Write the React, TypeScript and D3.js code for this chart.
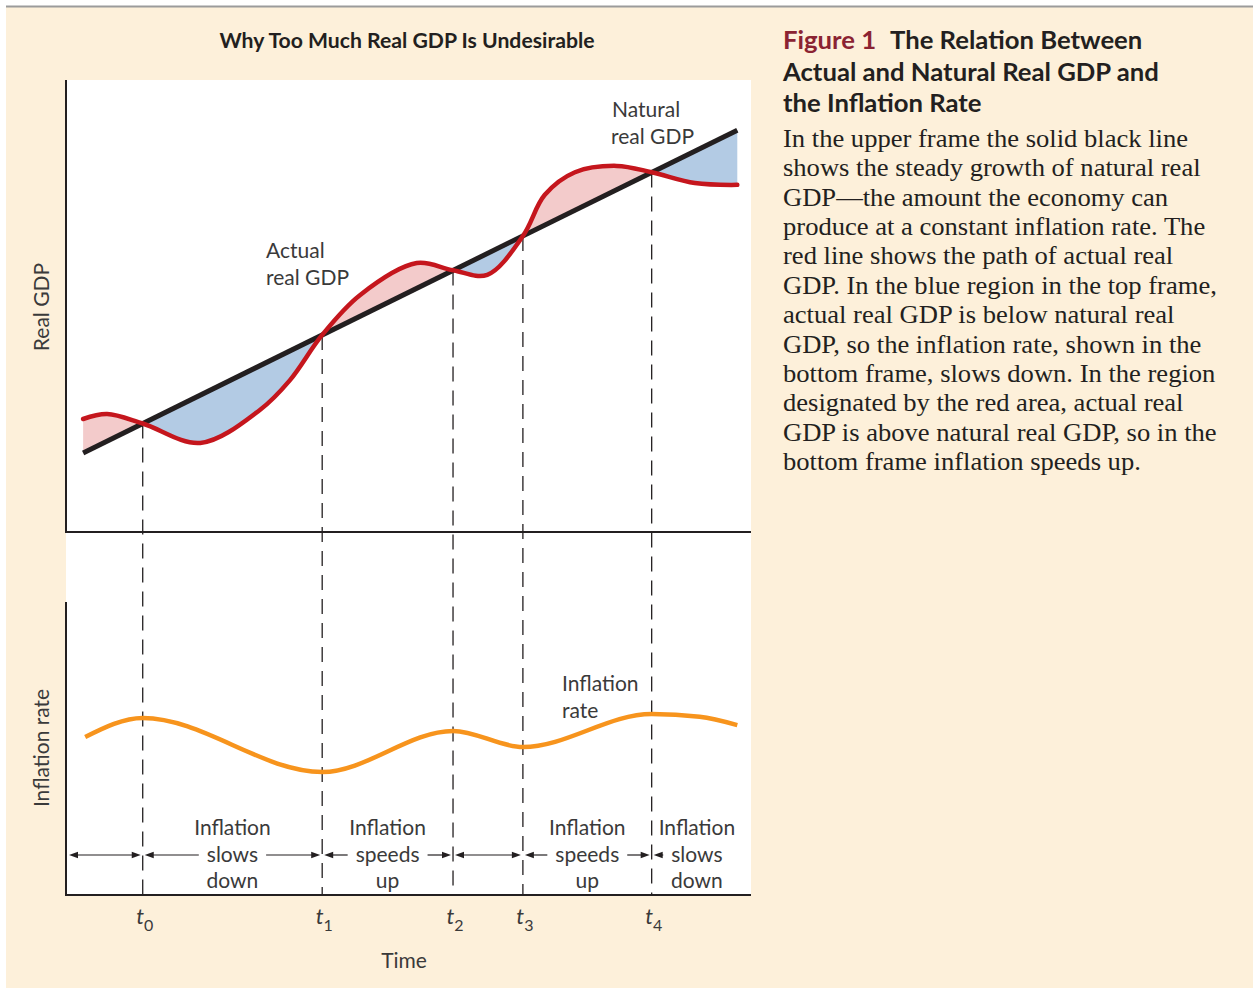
import React, { useEffect, useRef } from "react";
import * as d3 from "d3";

// ---------- data ----------
const gdpTime = [2.5, 6, 11.2, 19.6, 28.3, 32.7, 37.4, 42.9, 51.2, 56.5, 61.5, 66.7, 69.9, 74.3, 80.4, 85.5, 91.8, 98];
const actualGdp = [25, 26.1, 24, 19.7, 27, 33.6, 43.6, 52.4, 59.5, 57.9, 56.9, 65.5, 74.6, 79.6, 81, 79.6, 77.2, 76.8];
const naturalTime = [2.5, 98];
const naturalGdp = [17.5, 88.9];
const inflationTime = [2.8, 11.2, 37.4, 56.5, 66.7, 85.5, 92.5, 98];
const inflationRate = [53.9, 60.4, 42.0, 56.0, 50.5, 61.8, 60.8, 58.0];
const eventTimes = [11.2, 37.4, 56.5, 66.7, 85.5];
const eventLabels = ["0", "1", "2", "3", "4"];
const phaseBounds = [0.15, 11.2, 37.4, 56.5, 66.7, 85.5, 98.7];
const phaseLabels: (string[] | null)[] = [
  null,
  ["Inflation", "slows", "down"],
  ["Inflation", "speeds", "up"],
  null,
  ["Inflation", "speeds", "up"],
  ["Inflation", "slows", "down"],
];
const phaseRightArrow = [true, true, true, true, true, false];

const captionHeading = ["The Relation Between", "Actual and Natural Real GDP and", "the Inflation Rate"];
const captionBody = [
  "In the upper frame the solid black line",
  "shows the steady growth of natural real",
  "GDP\u2014the amount the economy can",
  "produce at a constant inflation rate. The",
  "red line shows the path of actual real",
  "GDP. In the blue region in the top frame,",
  "actual real GDP is below natural real",
  "GDP, so the inflation rate, shown in the",
  "bottom frame, slows down. In the region",
  "designated by the red area, actual real",
  "GDP is above natural real GDP, so in the",
  "bottom frame inflation speeds up.",
];

const W = 1253;
const H = 988;
const CREAM = "#fdf0da";
const INK = "#231f20";
const LABEL = "#3a3a3a";
const SANS = "Lato, 'Open Sans', sans-serif";

export default function App() {
  const ref = useRef<SVGSVGElement>(null);

  useEffect(() => {
    document.body.style.margin = "0";
    const svg = d3.select(ref.current!);
    svg.selectAll("*").remove();

    // background
    svg.append("rect").attr("x", 0).attr("y", 0).attr("width", W).attr("height", H).attr("fill", "#fff");
    svg.append("rect").attr("x", 6).attr("y", 7).attr("width", W - 6).attr("height", H - 7).attr("fill", CREAM);
    svg.append("line").attr("x1", 6).attr("x2", W).attr("y1", 6.5).attr("y2", 6.5).attr("stroke", "#9b9b9b").attr("stroke-width", 2);

    const left = 66, right = 751, top = 80, mid = 532, lowTop = 602, bottom = 895;
    svg.append("rect").attr("x", left).attr("y", top).attr("width", right - left).attr("height", bottom - top).attr("fill", "#fff");

    const x = d3.scaleLinear().domain([0, 100]).range([left, right]);
    const yG = d3.scaleLinear().domain([0, 100]).range([mid, top]);
    const yI = d3.scaleLinear().domain([0, 100]).range([bottom, lowTop]);
    const natScale = d3.scaleLinear().domain(naturalTime).range(naturalGdp);

    const defs = svg.append("defs");
    const xa = x(0), xb = x(100);
    defs.append("clipPath").attr("id", "above").append("path")
      .attr("d", `M${xa},0 L${xa},${yG(natScale(0))} L${xb},${yG(natScale(100))} L${xb},0 Z`);
    defs.append("clipPath").attr("id", "below").append("path")
      .attr("d", `M${xa},${yG(natScale(0))} L${xb},${yG(natScale(100))} L${xb},${H} L${xa},${H} Z`);

    const smooth = d3.curveCatmullRom.alpha(0.5);
    const gdpData = gdpTime.map((t, i) => ({ t, v: actualGdp[i] }));
    const area = d3.area<{ t: number; v: number }>()
      .x(d => x(d.t)).y0(d => yG(natScale(d.t))).y1(d => yG(d.v)).curve(smooth);
    svg.append("path").attr("d", area(gdpData)!).attr("fill", "#f3cbcb").attr("clip-path", "url(#above)");
    svg.append("path").attr("d", area(gdpData)!).attr("fill", "#b3cbe4").attr("clip-path", "url(#below)");

    // dashed event lines
    eventTimes.forEach(t => {
      svg.append("line").attr("x1", x(t)).attr("x2", x(t)).attr("y1", yG(natScale(t))).attr("y2", bottom)
        .attr("stroke", INK).attr("stroke-width", 1.3).attr("stroke-dasharray", "15 9");
    });

    // axes
    const axis = (x1: number, y1: number, x2: number, y2: number) =>
      svg.append("line").attr("x1", x1).attr("y1", y1).attr("x2", x2).attr("y2", y2).attr("stroke", INK).attr("stroke-width", 2);
    axis(left, top, left, mid + 1);
    axis(left, mid, right, mid);
    axis(left, lowTop, left, bottom + 1);
    axis(left, bottom, right, bottom);

    // natural line
    const line = d3.line<[number, number]>().x(d => x(d[0])).y(d => yG(d[1]));
    svg.append("path").attr("d", line(naturalTime.map((t, i) => [t, naturalGdp[i]]))!)
      .attr("fill", "none").attr("stroke", INK).attr("stroke-width", 5);
    // actual line
    const curveLine = d3.line<{ t: number; v: number }>().x(d => x(d.t)).y(d => yG(d.v)).curve(smooth);
    svg.append("path").attr("d", curveLine(gdpData)!).attr("fill", "none").attr("stroke", "#c5161d")
      .attr("stroke-width", 4.5).attr("stroke-linecap", "round");

    // inflation
    const infData = inflationTime.map((t, i) => ({ t, v: inflationRate[i] }));
    const infLine = d3.line<{ t: number; v: number }>().x(d => x(d.t)).y(d => yI(d.v)).curve(d3.curveMonotoneX);
    svg.append("path").attr("d", infLine(infData)!).attr("fill", "none").attr("stroke", "#f7941d").attr("stroke-width", 4.5);

    // labels
    const txt = (s: string, px: number, py: number, opts: any = {}, parent: any = svg) => {
      const t = parent.append("text").attr("x", px).attr("y", py).text(s)
        .attr("font-family", opts.family || SANS).attr("font-size", opts.size || 21)
        .attr("fill", opts.fill || LABEL).attr("text-anchor", opts.anchor || "start");
      if (opts.weight) t.attr("font-weight", opts.weight);
      return t;
    };
    txt("Actual", 266, 258);
    txt("real GDP", 266, 285);
    txt("Natural", 612, 117);
    txt("real GDP", 611, 144);
    txt("Inflation", 562, 691);
    txt("rate", 562, 718);

    txt("Real GDP", 0, 0, { anchor: "middle" }).attr("transform", "translate(49,307) rotate(-90)");
    txt("Inflation rate", 0, 0, { anchor: "middle" }).attr("transform", "translate(49,748) rotate(-90)");
    txt("Time", 404, 968, { anchor: "middle" });

    eventTimes.forEach((t, i) => {
      const tx = svg.append("text").attr("x", x(t) + 2).attr("y", 924).attr("text-anchor", "middle")
        .attr("font-family", SANS).attr("fill", LABEL);
      tx.append("tspan").attr("font-style", "italic").attr("font-size", 22).text("t");
      tx.append("tspan").attr("font-size", 16).attr("dy", 7).text(eventLabels[i]);
    });

    // phase arrows
    const ay = 855;
    const arrowHead = (px: number, dir: number) => {
      svg.append("path").attr("d", `M${px},${ay} L${px - dir * 9},${ay - 3.2} L${px - dir * 9},${ay + 3.2} Z`).attr("fill", INK);
    };
    const seg = (a: number, b: number) =>
      svg.append("line").attr("x1", a).attr("x2", b).attr("y1", ay).attr("y2", ay).attr("stroke", INK).attr("stroke-width", 1.2);
    for (let i = 0; i < phaseLabels.length; i++) {
      const a = x(phaseBounds[i]) + 2;
      const b = x(phaseBounds[i + 1]) - 2;
      const lab = phaseLabels[i];
      if (!lab) {
        seg(a + 4, b - 4);
        arrowHead(a, -1);
        arrowHead(b, 1);
        continue;
      }
      const cx = (x(phaseBounds[i]) + x(phaseBounds[i + 1])) / 2;
      txt(lab[0], cx, 835, { anchor: "middle" });
      const midT = txt(lab[1], cx, 862, { anchor: "middle" });
      txt(lab[2], cx, 888, { anchor: "middle" });
      const w = (midT.node() as SVGTextElement).getComputedTextLength();
      const gapL = cx - w / 2 - 8;
      const gapR = cx + w / 2 + 8;
      seg(a + 4, gapL);
      arrowHead(a, -1);
      if (phaseRightArrow[i]) {
        seg(gapR, b - 4);
        arrowHead(b, 1);
      }
    }

    // title
    txt("Why Too Much Real GDP Is Undesirable", 407, 48, { anchor: "middle", weight: 700, size: 20.5, fill: INK })
      .attr("textLength", 375).attr("lengthAdjust", "spacingAndGlyphs");

    // caption heading
    const hg = svg.append("g").attr("transform", "translate(783,0) scale(1.07,1)");
    const h1 = hg.append("text").attr("x", 0).attr("y", 49).attr("font-family", SANS)
      .attr("font-weight", 700).attr("font-size", 24).attr("fill", INK);
    h1.append("tspan").attr("fill", "#8b2332").text("Figure 1");
    h1.append("tspan").attr("dx", 13).text(captionHeading[0]);
    captionHeading.slice(1).forEach((s, i) => {
      txt(s, 0, 81 + i * 31.5, { weight: 700, size: 24, fill: INK }, hg);
    });
    // caption body
    const bg = svg.append("g").attr("transform", "translate(783,0) scale(1.085,1)");
    captionBody.forEach((s, i) => {
      txt(s, 0, 147 + i * 29.36, { family: "'Liberation Serif', 'DejaVu Serif', serif", size: 24.5, fill: INK }, bg);
    });
  }, []);

  return <svg ref={ref} width={W} height={H} style={{ position: "absolute", left: 0, top: 0, display: "block" }} />;
}
